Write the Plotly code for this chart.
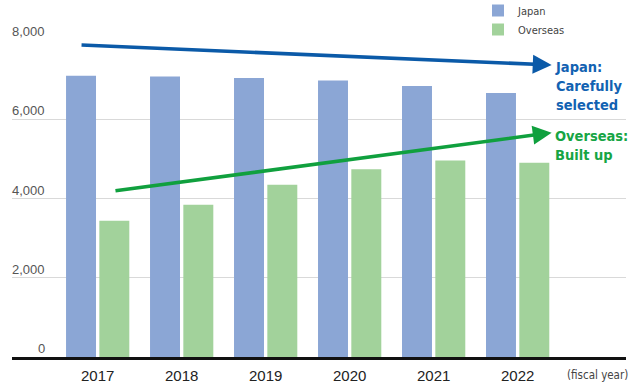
import plotly.graph_objects as go

years = ["2017", "2018", "2019", "2020", "2021", "2022"]
japan = [7100, 7080, 7040, 6980, 6840, 6660]
overseas = [3440, 3840, 4350, 4740, 4960, 4900]
y_ticks = [0, 2000, 4000, 6000, 8000]
y_tick_text = ["0", "2,000", "4,000", "6,000", "8,000"]

japan_color = "#8BA6D5"
overseas_color = "#A2D29B"
blue = "#0B5AA8"
green = "#10A03E"
narrow = "DejaVu Sans Condensed, Liberation Sans Narrow, Arial Narrow, sans-serif"

fig = go.Figure()
fig.add_trace(go.Bar(x=years, y=japan, name="Japan", marker_color=japan_color,
                     marker_line_width=0))
fig.add_trace(go.Bar(x=years, y=overseas, name="Overseas", marker_color=overseas_color,
                     marker_line_width=0))

annotations = []
for v, t in zip(y_ticks, y_tick_text):
    annotations.append(dict(x=0.0565, xref="paper", y=v, yref="y", text=t,
                            showarrow=False, xanchor="right", yanchor="bottom",
                            yshift=-1,
                            font=dict(family="Liberation Sans, Arial, sans-serif",
                                      size=13, color="#555555")))

# trend arrows
annotations.append(dict(x=5.405, y=7369, ax=-0.21, ay=7874, axref="x", ayref="y",
                        xref="x", yref="y", text="", showarrow=True,
                        arrowhead=2, arrowsize=1.05, arrowwidth=3.6, arrowcolor=blue,
                        standoff=0))
annotations.append(dict(x=5.405, y=5661, ax=0.194, ay=4189, axref="x", ayref="y",
                        xref="x", yref="y", text="", showarrow=True,
                        arrowhead=2, arrowsize=1.05, arrowwidth=3.6, arrowcolor=green,
                        standoff=0))

annotations.append(dict(x=5.42, y=6839, xref="x", yref="y", xanchor="left",
                        yanchor="middle", align="left", showarrow=False,
                        text="<b>Japan:<br>Carefully<br>selected</b>",
                        font=dict(family=narrow, size=14.5, color="#1262B2")))
annotations.append(dict(x=5.42, y=5330, xref="x", yref="y", xanchor="left",
                        yanchor="middle", align="left", showarrow=False,
                        text="<b>Overseas:<br>Built up</b>",
                        font=dict(family=narrow, size=14.5, color="#16A544")))

annotations.append(dict(x=0.954, y=0, xref="paper", yref="paper", xanchor="center",
                        yanchor="top", yshift=-9, showarrow=False,
                        text="(fiscal year)",
                        font=dict(family=narrow, size=11.5, color="#444444")))

fig.update_layout(
    width=640, height=385,
    margin=dict(l=12, r=14, t=40, b=28, autoexpand=False),
    paper_bgcolor="white", plot_bgcolor="white",
    barmode="group", bargap=0.207, bargroupgap=0.1,
    showlegend=True,
    legend=dict(x=(478 - 12) / 614, y=(357 + 4) / 317, xanchor="left", yanchor="top",
                font=dict(family=narrow, size=11, color="#444444"),
                bgcolor="rgba(0,0,0,0)", tracegroupgap=0,
                itemwidth=30),
    annotations=annotations,
    font=dict(family="Liberation Sans, Arial, sans-serif"),
)
fig.update_xaxes(type="category", range=[-1.02, 6.29], showline=True, linecolor="#111111",
                 linewidth=2.5, showgrid=False, ticks="", ticklabelstandoff=3,
                 tickfont=dict(size=15, color="#222222",
                               family="Liberation Sans, Arial, sans-serif"))
fig.update_yaxes(range=[0, 8000], tickvals=y_ticks, showticklabels=False,
                 showgrid=True, gridcolor="#D9D9D9", gridwidth=1, zeroline=False)

fig.write_html("out.html", config={"displayModeBar": False},
               post_script="document.body.style.margin='0';document.body.style.overflow='hidden';")
